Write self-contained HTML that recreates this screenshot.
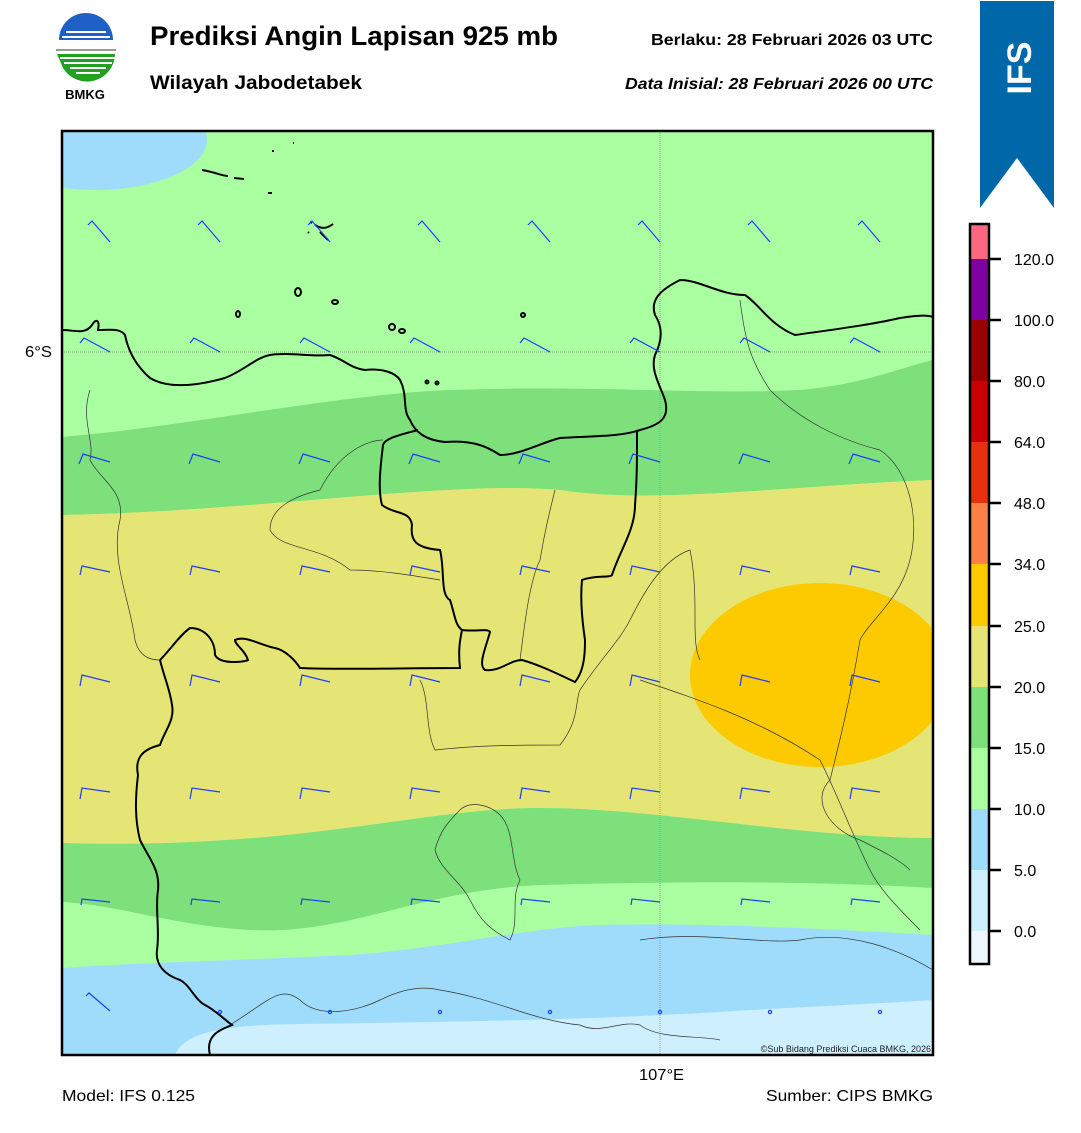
<!DOCTYPE html>
<html><head><meta charset="utf-8"><style>
body{margin:0;background:#fff;width:1081px;height:1128px;overflow:hidden;font-family:"Liberation Sans",Arial,sans-serif}
</style></head><body>
<svg width="1081" height="1128" viewBox="0 0 1081 1128" xmlns="http://www.w3.org/2000/svg" font-family="Liberation Sans, Arial, sans-serif">
<!-- logo -->
<g>
<path d="M59,40 A27,27 0 0 1 113,40 Z" fill="#1f5fc8"/>
<path d="M58,41 h56 v2 h-56z M62,36 h48 v2 h-48z M66,31 h40 v2 h-40z" fill="#fff"/>
<path d="M68,46 q8,-8 16,0 q6,-6 12,0 q6,-5 12,2 z" fill="#fff"/>
<line x1="56" y1="50" x2="116" y2="50" stroke="#999" stroke-width="2"/>
<path d="M57,54 h58 A28,28 0 0 1 63,68 Z" fill="#22a022"/>
<path d="M60,57 h55 v2 h-55z M64,62 h48 v2 h-48z M70,67 h36 v2 h-36z M76,72 h24 v2 h-24z" fill="#fff"/>
<text x="85" y="99" font-size="13" font-weight="bold" text-anchor="middle">BMKG</text>
</g>
<text x="150" y="45" font-size="27" font-weight="bold" textLength="408" lengthAdjust="spacingAndGlyphs">Prediksi Angin Lapisan 925 mb</text>
<text x="150" y="89" font-size="19" font-weight="bold" textLength="212" lengthAdjust="spacingAndGlyphs">Wilayah Jabodetabek</text>
<text x="651" y="45" font-size="16" font-weight="bold" textLength="282" lengthAdjust="spacingAndGlyphs">Berlaku:  28 Februari 2026 03 UTC</text>
<text x="625" y="89" font-size="16" font-weight="bold" font-style="italic" textLength="308" lengthAdjust="spacingAndGlyphs">Data Inisial:  28 Februari 2026 00 UTC</text>
<!-- IFS banner -->
<path d="M980,1 H1054 V208 L1017,158 L980,208 Z" fill="#0068a8"/>
<text transform="translate(1031,68) rotate(-90)" font-size="34" font-weight="bold" fill="#fff" text-anchor="middle">IFS</text>

<!-- map -->
<defs><clipPath id="mc"><rect x="62" y="131" width="871" height="924"/></clipPath></defs>
<g clip-path="url(#mc)">
<rect x="62" y="131" width="871" height="924" fill="#aaffa0"/>
<ellipse cx="95" cy="140" rx="112" ry="50" fill="#9fdcfb"/>
<path d="M62,437 C200,425 330,395 450,390 C600,385 700,395 800,390 C860,385 900,368 933,360 L933,480 C800,485 650,505 560,490 C450,480 250,512 62,515Z" fill="#7de07a"/>
<path d="M62,515 C250,512 450,480 560,490 C650,505 800,485 933,480 L933,838 C800,838 660,808 540,808 C420,808 300,850 62,843Z" fill="#e5e575"/>
<ellipse cx="820" cy="675" rx="130" ry="92" fill="#fdca00"/>
<path d="M62,843 C300,850 420,808 540,808 C660,808 800,838 933,838 L933,888 C800,880 650,882 540,885 C420,890 350,935 250,930 C170,925 120,905 62,902Z" fill="#7de07a"/>
<path d="M62,968 C150,962 250,960 350,955 C450,948 520,928 600,925 C700,922 850,930 933,935 L933,1055 L62,1055Z" fill="#9fdcfb"/>
<path d="M175,1055 C185,1030 230,1025 300,1024 C450,1022 600,1020 750,1010 C850,1005 900,1002 933,1000 L933,1055Z" fill="#cdeffe"/>
<!-- grid -->
<line x1="660" y1="131" x2="660" y2="1055" stroke="#999" stroke-width="1" stroke-dasharray="1,1"/>
<line x1="62" y1="352" x2="933" y2="352" stroke="#999" stroke-width="1" stroke-dasharray="1,1"/>
<!-- thin borders -->
<g fill="none" stroke="#333" stroke-width="0.7">
<path d="M90,390 C80,420 95,440 90,460 C100,480 125,490 120,520 C110,560 130,600 135,640 C140,660 155,660 160,660"/>
<path d="M320,490 C300,495 270,505 270,530 C280,550 320,545 350,570 C380,570 410,575 440,580"/>
<path d="M320,490 C340,450 370,440 383,440"/>
<path d="M420,680 C430,700 425,730 435,750 C480,745 520,745 560,745 C580,720 575,700 580,690"/>
<path d="M520,660 C525,620 530,580 540,560 C545,530 550,510 555,490"/>
<path d="M580,690 C600,660 620,640 630,620 C640,600 660,560 690,550 C700,600 690,640 700,660"/>
<path d="M640,680 C700,700 760,720 820,760 C840,800 850,830 870,870 C880,890 900,910 920,930"/>
<path d="M740,300 C745,340 750,360 770,390 C800,420 840,440 880,450 C910,470 920,520 910,560 C900,600 870,620 860,640 C850,700 840,740 830,780 C810,800 830,830 860,840 C880,850 900,860 910,870"/>
<path d="M460,810 C470,800 490,805 500,815 C515,830 510,860 520,880 C510,900 520,920 510,940 C490,930 480,920 470,900 C460,880 440,870 435,850 C440,830 450,820 460,810Z"/>
<path d="M230,1025 C270,1000 280,985 300,1000 C320,1020 360,1010 380,1000 C400,990 420,985 440,990 C500,1000 530,1020 580,1025 C600,1035 620,1020 640,1025 C660,1040 700,1035 720,1040"/>
<path d="M640,940 C700,930 760,945 800,940 C850,930 900,950 933,970"/>
</g>
<!-- thick coast / borders -->
<g fill="none" stroke="#000" stroke-width="2">
<path d="M62,330 C75,330 85,335 92,325 C96,318 100,320 98,330 C110,330 120,328 125,335 C128,350 135,365 150,378 C170,390 200,385 225,378 C245,370 255,358 270,355 C290,352 310,357 330,355 C345,360 350,368 365,370 C380,368 395,372 400,380 C408,395 402,410 410,420 C415,432 425,440 445,442 C470,440 485,445 500,455 C520,455 540,443 560,438 C590,436 620,437 640,430 C660,425 670,418 665,400 C660,385 650,370 655,355 C660,345 665,330 655,315 C650,300 660,290 680,280 C700,280 720,295 745,295 C760,305 770,325 795,335 C830,330 870,325 900,318 C920,315 928,315 933,317"/>
<path d="M418,430 C400,435 385,438 383,445 C380,470 378,490 382,505 C395,515 410,510 412,525 C410,540 415,548 440,550 C445,570 440,595 450,600 C455,615 455,625 462,630 C475,632 488,628 490,632 C485,650 478,665 485,670 C500,672 510,660 522,660 C540,665 560,675 575,682 C585,670 585,650 585,640 C582,620 580,600 582,580 C595,575 610,578 612,575 C620,550 635,530 635,505 C637,480 637,460 637,432"/>
<path d="M160,660 C170,650 180,635 190,628 C205,628 215,640 215,655 C220,665 245,662 248,660 C245,650 235,645 235,640 C245,635 260,645 275,648 C285,650 295,660 300,668 C340,670 400,668 460,668 C458,650 460,640 462,630"/>
<path d="M160,660 C165,680 170,690 172,705 C175,720 165,730 160,745 C140,750 135,760 138,775 C135,800 135,820 140,840 C150,860 160,870 158,890 C155,910 160,930 157,950 C155,965 165,975 180,980 C190,985 195,1000 205,1005 C215,1010 225,1020 232,1025 C220,1030 205,1035 210,1055"/>
</g>
<!-- islands -->
<g fill="none" stroke="#000" stroke-width="2">
<path d="M202,170 C215,172 222,176 228,176 M234,178 l10,1"/>
<path d="M315,225 C320,228 325,230 333,224 M310,222 l2,1 M308,232 l1,1 M320,232 l8,8"/>
<ellipse cx="238" cy="314" rx="2" ry="3"/><ellipse cx="335" cy="302" rx="3" ry="2"/><ellipse cx="298" cy="292" rx="3" ry="4"/>
<ellipse cx="392" cy="327" rx="3" ry="3"/><ellipse cx="402" cy="331" rx="3" ry="2"/><ellipse cx="523" cy="315" rx="2" ry="2"/>
<ellipse cx="427" cy="382" rx="1.5" ry="1.5"/><ellipse cx="437" cy="383" rx="1.5" ry="1.5"/>
<path d="M272,151 l2,0 M293,143 l1,0 M268,193 l4,0"/>
</g>
<g id="barbs" stroke="#1f3cff" stroke-width="1.2" fill="none"></g>
<text x="931" y="1052" font-size="9" text-anchor="end" fill="#222">©Sub Bidang Prediksi Cuaca BMKG, 2026</text>
</g>
<rect x="62" y="131" width="871" height="924" fill="none" stroke="#000" stroke-width="2.5"/>
<text x="25" y="357" font-size="16" textLength="27" lengthAdjust="spacingAndGlyphs">6°S</text>
<text x="639" y="1080" font-size="16" textLength="45" lengthAdjust="spacingAndGlyphs">107°E</text>
<text x="62" y="1101" font-size="16" textLength="133" lengthAdjust="spacingAndGlyphs">Model: IFS 0.125</text>
<text x="766" y="1101" font-size="16" textLength="167" lengthAdjust="spacingAndGlyphs">Sumber: CIPS BMKG</text>
<!-- colorbar -->
<g>
<rect x="970" y="224" width="19" height="35" fill="#ff6680"/>
<rect x="970" y="259" width="19" height="61" fill="#7d00a0"/>
<rect x="970" y="320" width="19" height="61" fill="#9b0000"/>
<rect x="970" y="381" width="19" height="61" fill="#c80000"/>
<rect x="970" y="442" width="19" height="61" fill="#e83010"/>
<rect x="970" y="503" width="19" height="61" fill="#fb8048"/>
<rect x="970" y="564" width="19" height="62" fill="#fdca00"/>
<rect x="970" y="626" width="19" height="61" fill="#e5e575"/>
<rect x="970" y="687" width="19" height="61" fill="#7de07a"/>
<rect x="970" y="748" width="19" height="61" fill="#aaffa0"/>
<rect x="970" y="809" width="19" height="61" fill="#9fdcfb"/>
<rect x="970" y="870" width="19" height="61" fill="#cdeffe"/>
<rect x="970" y="931" width="19" height="33" fill="#eef6ff"/>
<rect x="970" y="224" width="19" height="740" fill="none" stroke="#000" stroke-width="2.5"/>
<g stroke="#000" stroke-width="2.5">
<line x1="989" y1="259" x2="1001" y2="259"/><line x1="989" y1="320" x2="1001" y2="320"/><line x1="989" y1="381" x2="1001" y2="381"/><line x1="989" y1="442" x2="1001" y2="442"/><line x1="989" y1="503" x2="1001" y2="503"/><line x1="989" y1="564" x2="1001" y2="564"/><line x1="989" y1="626" x2="1001" y2="626"/><line x1="989" y1="687" x2="1001" y2="687"/><line x1="989" y1="748" x2="1001" y2="748"/><line x1="989" y1="809" x2="1001" y2="809"/><line x1="989" y1="870" x2="1001" y2="870"/><line x1="989" y1="931" x2="1001" y2="931"/>
</g>
<g font-size="16">
<text x="1014" y="265">120.0</text><text x="1014" y="326">100.0</text><text x="1014" y="387">80.0</text><text x="1014" y="448">64.0</text><text x="1014" y="509">48.0</text><text x="1014" y="570">34.0</text><text x="1014" y="632">25.0</text><text x="1014" y="693">20.0</text><text x="1014" y="754">15.0</text><text x="1014" y="815">10.0</text><text x="1014" y="876">5.0</text><text x="1014" y="937">0.0</text>
</g>
</g>
</svg>
<script>
var rows=[[242,-18,-21,-4,4],[352,-26,-14,-4,5],[462,-27,-8,-4,10],[572,-28,-6,-2,9],[682,-28,-7,-2,11],[792,-28,-4,-2,11],[902,-28,-3,-1,6]];
var g=document.getElementById('barbs'),s='';
rows.forEach(function(r){for(var k=0;k<8;k++){var x=110+110*k,y=r[0],tx=x+r[1],ty=y+r[2];
s+='<polyline points="'+x+','+y+' '+tx+','+ty+' '+(tx+r[3])+','+(ty+r[4])+'"/>';}});
s+='<polyline points="110,1011 89,993 86,996"/>';
for(var k=1;k<8;k++){s+='<circle cx="'+(110+110*k)+'" cy="1012" r="1.6"/>';}
g.innerHTML=s;
</script>
</body></html>
